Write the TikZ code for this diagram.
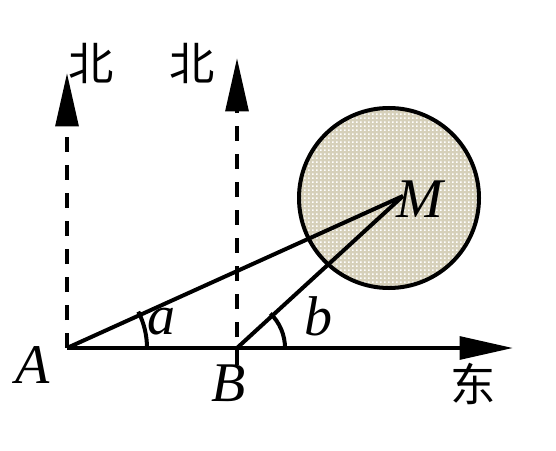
\documentclass[tikz,border=0pt]{standalone}
\usepackage{fontspec}
\setmainfont{Liberation Serif}
\newfontfamily\cjk{Noto Sans CJK SC}
\usetikzlibrary{arrows.meta,patterns}
\definecolor{sand}{RGB}{214,208,186}
\pgfdeclarepatternformonly{bigdots}{\pgfpointorigin}{\pgfpoint{3pt}{3pt}}{\pgfpoint{3pt}{3pt}}{%
  \pgfpathrectangle{\pgfpointorigin}{\pgfpoint{1.4pt}{1.4pt}}\pgfusepath{fill}}
\begin{document}
\begin{tikzpicture}[x=0.75pt,y=0.75pt,
  solidline/.style={line width=3pt},
  dashline/.style={line width=3pt, dash pattern=on 11pt off 10pt},
  tip/.style={-{Triangle[length=40pt,width=17pt]}},
  lbl/.style={inner sep=0pt, font=\fontsize{42}{42}\selectfont\itshape},
  cjklbl/.style={inner sep=0pt, font=\fontsize{34}{34}\selectfont\cjk}]
\useasboundingbox (0,0) rectangle (556,450);
\coordinate (A) at (67,102);
\coordinate (B) at (237,102);
\coordinate (M) at (403,254);
\coordinate (O) at (389,252);
\coordinate (E) at (513,102);
\coordinate (NA) at (67,377);
\coordinate (NB) at (237,392);
\coordinate (Bd) at (237,85);
% circle
\fill[sand] (O) circle[radius=67.5pt];
\fill[pattern=bigdots, pattern color=white] (O) circle[radius=67.5pt];
\draw[solidline] (O) circle[radius=67.5pt];
% north lines
\draw[dashline, tip] (A) -- (NA);
\draw[dashline, tip] (Bd) -- (NB);
% east axis
\draw[solidline, tip] (A) -- (E);
% lines to M
\draw[solidline] (A) -- (M);
\draw[solidline] (B) -- (M);
% angle arcs
\draw[solidline] ([xshift=60pt]A) arc[start angle=0, end angle=27, radius=60pt];
\draw[solidline] ([xshift=36pt]B) arc[start angle=0, end angle=46, radius=36pt];
% labels
\node[lbl] (la) at (33,85) {A};
\node[lbl] (lb) at (229,67) {B};
\node[lbl] (lm) at (420,251) {M};
\node[lbl] (lalpha) at (161,128) {a};
\node[lbl] (lbeta) at (318,134) {b};
\node[cjklbl] (n1) at (91,387) {北};
\node[cjklbl] (n2) at (192,387) {北};
\node[cjklbl] (e1) at (473,66) {东};
\end{tikzpicture}
\end{document}
